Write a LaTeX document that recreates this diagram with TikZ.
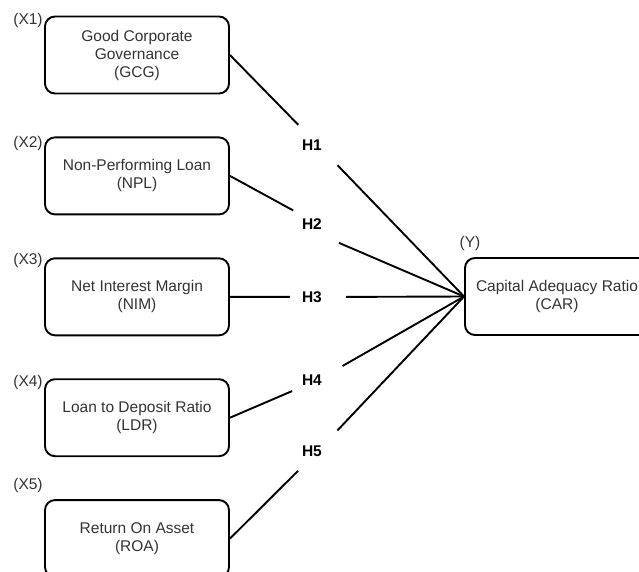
\documentclass[tikz,border=0pt]{standalone}
\usepackage{fontspec}
\setmainfont{Liberation Sans}
\usepackage{tikz}
\usetikzlibrary{positioning}
\definecolor{varink}{HTML}{333333}
\definecolor{varline}{HTML}{000000}

\begin{document}
\begin{tikzpicture}[
  x=1pt,y=-1pt,
  node distance=42pt,
  var/.style={draw=varline,line width=1.9pt,rounded corners=10pt,align=center,minimum width=184pt,minimum height=77pt,inner sep=0pt,text=varink,font=\fontsize{15.5}{18}\selectfont},
  tag/.style={text=varink,inner sep=0pt,font=\fontsize{15.5}{18}\selectfont},
  hyp/.style={circle,minimum size=56pt,inner sep=0pt,text width=32pt,align=left,font=\bfseries\fontsize{15.5}{18}\selectfont},
  link/.style={line width=1.9pt,draw=varline}
]
\clip (0,0) rectangle (639,572);
\node[var] (gcg) at (137,55) {Good Corporate\\Governance\\(GCG)};
\node[var,below=of gcg] (npl) {Non-Performing Loan\\(NPL)};
\node[var,below=of npl] (nim) {Net Interest Margin\\(NIM)};
\node[var,below=of nim] (ldr) {Loan to Deposit Ratio\\(LDR)};
\node[var,below=of ldr] (roa) {Return On Asset\\(ROA)};
\node[tag] (x1) at (28,20) {(X1)};
\node[tag] (x2) at (28,143) {(X2)};
\node[tag] (x3) at (28,260) {(X3)};
\node[tag] (x4) at (28,382) {(X4)};
\node[tag] (x5) at (28,485) {(X5)};

\node[var] (car) at (557,296.5) {Capital Adequacy Ratio\\(CAR)};
\node[tag] (ytag) at (470,243) {(Y)};

\node[hyp] (h1) at (318,145) {H1};
\node[hyp] (h2) at (318,224) {H2};
\node[hyp] (h3) at (318,297) {H3};
\node[hyp] (h4) at (318,380) {H4};
\node[hyp] (h5) at (318,451) {H5};

\draw[link] (gcg.east) -- (h1);
\draw[link] (h1) -- (car.west);
\draw[link] (npl.east) -- (h2);
\draw[link] (h2.-42) -- (car.west);
\draw[link] (nim.east) -- (h3);
\draw[link] (h3) -- (car.west);
\draw[link] (ldr.east) -- (h4);
\draw[link] (h4) -- (car.west);
\draw[link] (roa.east) -- (h5);
\draw[link] (h5) -- (car.west);
\end{tikzpicture}
\end{document}
